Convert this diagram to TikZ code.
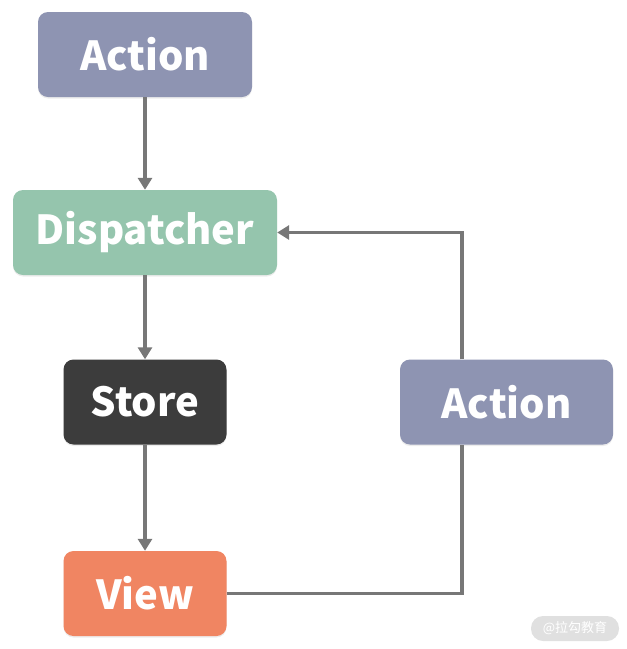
\documentclass[tikz,border=0pt]{standalone}
\usepackage{fontspec}
\setmainfont{Noto Sans CJK SC}
\usetikzlibrary{arrows.meta,shadows}
\definecolor{actioncol}{HTML}{8E94B2}
\definecolor{dispcol}{HTML}{95C5AD}
\definecolor{storecol}{HTML}{3C3C3C}
\definecolor{viewcol}{HTML}{F08562}
\definecolor{linecol}{HTML}{777777}
\definecolor{markcol}{HTML}{E0E0E0}

\begin{document}
\begin{tikzpicture}[x=1pt, y=-1pt,
    box/.style={rounded corners=10pt, text=white, font=\bfseries\fontsize{40}{40}\selectfont,
        minimum height=85pt, drop shadow={opacity=0.15, shadow xshift=0pt, shadow yshift=-1.5pt}},
    flow/.style={draw=linecol, line width=3.5pt},
    >={Triangle[length=12pt, width=14pt]}]
    \useasboundingbox (0, 0) rectangle (627, 649);

    \node (action) [box, fill=actioncol, minimum width=214pt] at (145, 54.5) {Action};
    \node (dispatcher) [box, fill=dispcol, minimum width=264pt] at (145, 232.5) {Dispatcher};
    \node (store) [box, fill=storecol, minimum width=163pt] at (145, 402) {Store};
    \node (view) [box, fill=viewcol, minimum width=163pt] at (145, 593.5) {View};
    \node (action2) [box, fill=actioncol, minimum width=213pt] at (506.5, 402) {Action};
    \coordinate (turn) at (462, 593.5);

    \draw[flow, ->] (action) -- (dispatcher);
    \draw[flow, ->] (dispatcher) -- (store);
    \draw[flow, ->] (store) -- (view);
    \draw[flow] (view.east) -- (turn) -- (turn |- action2.south);
    \draw[flow, ->] (turn |- action2.north) |- (dispatcher.east);

    \node (mark) [fill=markcol, rounded corners=12pt, text=white, minimum width=88pt, minimum height=25pt,
        font=\fontsize{13}{13}\selectfont] at (575, 628.5) {@拉勾教育};
\end{tikzpicture}
\end{document}
